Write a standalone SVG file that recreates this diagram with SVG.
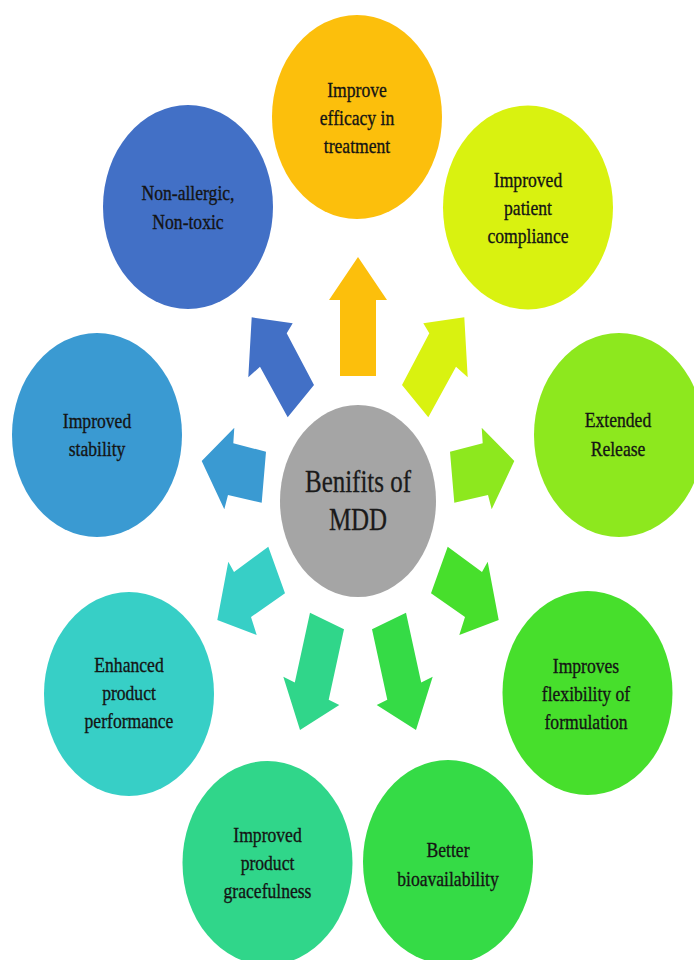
<svg xmlns="http://www.w3.org/2000/svg" width="694" height="960" viewBox="0 0 694 960">
<style>
  .lbl { font-family: "Liberation Serif", "Times New Roman", serif; font-size: 22px; fill: #141414; stroke: #141414; stroke-width: 0.35px; text-anchor: middle; }
  .ctr { font-family: "Liberation Serif", "Times New Roman", serif; font-size: 32px; fill: #1a1a1a; stroke: #1a1a1a; stroke-width: 0.3px; text-anchor: middle; }
  .c-orange { fill: #FCBF0C; }
  .c-blue { fill: #4270C6; }
  .c-yg { fill: #D9F210; }
  .c-lg { fill: #8DE81E; }
  .c-sky { fill: #3A9AD2; }
  .c-teal { fill: #37CFC6; }
  .c-flex { fill: #47DF2C; }
  .c-bio { fill: #35DB46; }
  .c-grace { fill: #30D68A; }
  .c-gray { fill: #A5A5A5; }
</style>
<rect width="694" height="960" fill="#FFFFFF"/>

<g id="connectors">
  <polygon class="c-orange" points="358,257 387,300 376,300 376,376 340,376 340,300 329,300"/>
  <polygon class="c-blue" points="251.7,317.3 292.7,323.3 286.7,333.3 314,385 287.7,417.3 260,366.7 248.3,377.3"/>
  <polygon class="c-yg" points="464.3,317.3 423.3,323.3 429.3,333.3 402,385 428.3,417.3 456,366.7 467.7,377.3"/>
  <polygon class="c-sky" points="201.7,461 234.3,427.7 233.3,443.3 266,451.7 261.7,502.7 228,495 224.3,509.3"/>
  <polygon class="c-lg" points="514.3,461 481.7,427.7 482.7,443.3 450,451.7 454.3,502.7 488,495 491.7,509.3"/>
  <polygon class="c-teal" points="217.3,620 228.3,561.7 234,572 268.3,546.7 285,593.3 251,617 256.7,635"/>
  <polygon class="c-flex" points="498.7,620 487.7,561.7 482,572 447.7,546.7 431,593.3 465,617 459.3,635"/>
  <polygon class="c-grace" points="300,730 283.3,676.7 294.8,682.5 310,612.7 344,629.3 328.7,699.7 339.3,705"/>
  <polygon class="c-bio" points="416,730 432.7,676.7 421.2,682.5 406,612.7 372,629.3 387.3,699.7 376.7,705"/>
</g>

<g id="center">
  <ellipse class="c-gray" cx="358" cy="501" rx="78" ry="96"/>
  <g transform="translate(358,0) scale(0.78,1)">
    <text class="ctr" x="0" y="492">Benifits of</text>
    <text class="ctr" x="0" y="530">MDD</text>
  </g>
</g>

<g id="efficacy">
  <ellipse class="c-orange" cx="357" cy="117" rx="85" ry="102"/>
  <g transform="translate(357,0) scale(0.8,1)">
    <text class="lbl" x="0" y="97">Improve</text>
    <text class="lbl" x="0" y="125">efficacy in</text>
    <text class="lbl" x="0" y="153">treatment</text>
  </g>
</g>

<g id="nonallergic">
  <ellipse class="c-blue" cx="188" cy="207" rx="85" ry="102"/>
  <g transform="translate(188,0) scale(0.8,1)">
    <text class="lbl" x="0" y="200">Non-allergic,</text>
    <text class="lbl" x="0" y="229">Non-toxic</text>
  </g>
</g>

<g id="compliance">
  <ellipse class="c-yg" cx="528" cy="207.5" rx="85" ry="102"/>
  <g transform="translate(528,0) scale(0.8,1)">
    <text class="lbl" x="0" y="187">Improved</text>
    <text class="lbl" x="0" y="215">patient</text>
    <text class="lbl" x="0" y="243">compliance</text>
  </g>
</g>

<g id="extended">
  <ellipse class="c-lg" cx="619" cy="435" rx="85" ry="102"/>
  <g transform="translate(618,0) scale(0.8,1)">
    <text class="lbl" x="0" y="427">Extended</text>
    <text class="lbl" x="0" y="456">Release</text>
  </g>
</g>

<g id="stability">
  <ellipse class="c-sky" cx="97" cy="435" rx="85" ry="102"/>
  <g transform="translate(97,0) scale(0.8,1)">
    <text class="lbl" x="0" y="428">Improved</text>
    <text class="lbl" x="0" y="456">stability</text>
  </g>
</g>

<g id="performance">
  <ellipse class="c-teal" cx="129" cy="694" rx="85" ry="102"/>
  <g transform="translate(129,0) scale(0.8,1)">
    <text class="lbl" x="0" y="672">Enhanced</text>
    <text class="lbl" x="0" y="700">product</text>
    <text class="lbl" x="0" y="728">performance</text>
  </g>
</g>

<g id="flexibility">
  <ellipse class="c-flex" cx="587.5" cy="693" rx="85" ry="102"/>
  <g transform="translate(586,0) scale(0.8,1)">
    <text class="lbl" x="0" y="673">Improves</text>
    <text class="lbl" x="0" y="701">flexibility  of</text>
    <text class="lbl" x="0" y="729">formulation</text>
  </g>
</g>

<g id="gracefulness">
  <ellipse class="c-grace" cx="267.5" cy="863" rx="85" ry="102"/>
  <g transform="translate(267.5,0) scale(0.8,1)">
    <text class="lbl" x="0" y="842">Improved</text>
    <text class="lbl" x="0" y="870">product</text>
    <text class="lbl" x="0" y="898">gracefulness</text>
  </g>
</g>

<g id="bioavailability">
  <ellipse class="c-bio" cx="448" cy="862" rx="85" ry="102"/>
  <g transform="translate(448,0) scale(0.8,1)">
    <text class="lbl" x="0" y="857">Better</text>
    <text class="lbl" x="0" y="886">bioavailability</text>
  </g>
</g>
</svg>
